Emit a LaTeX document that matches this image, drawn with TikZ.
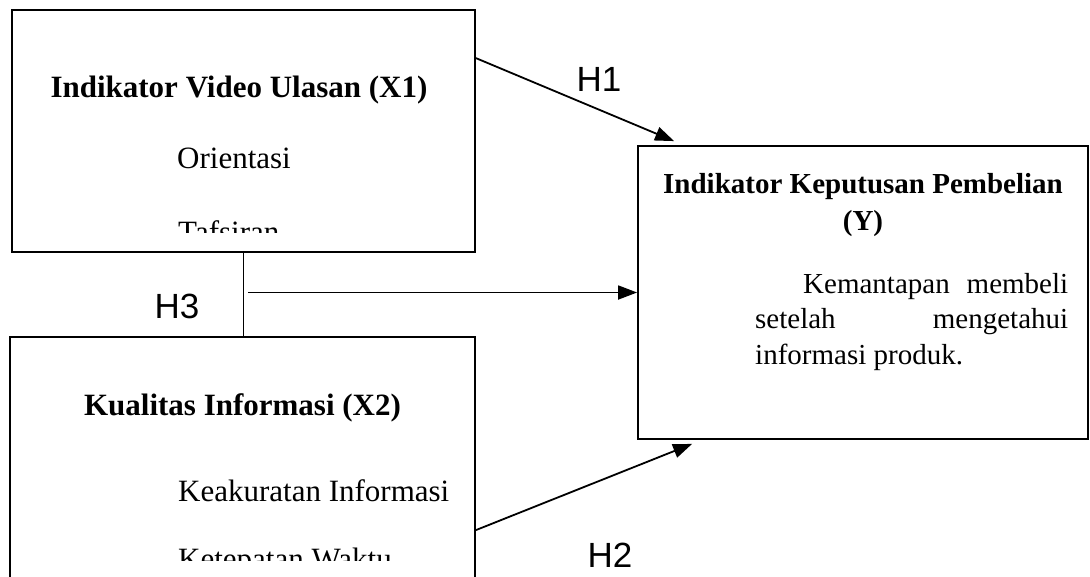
\documentclass[tikz,border=0pt]{standalone}
\usepackage{fontspec}
\setmainfont{Liberation Serif}
\newfontfamily\arialfont{Liberation Sans}
\usepackage{tikz}
\usetikzlibrary{positioning,calc,arrows.meta}
\hyphenpenalty=10000
\exhyphenpenalty=10000
\tolerance=9999
\tikzset{
    kotak/.style={rectangle, draw=black, line width=1.8pt, inner sep=0pt},
    panah/.style={draw=black, line width=1.8pt, -{Triangle[length=19pt,width=14pt]}}
}

\begin{document}
\begin{tikzpicture}[
        x=1pt, y=-1pt,
        % --- STYLE TEKS ---
        judul/.style={
            font=\fontsize{31}{36}\selectfont\bfseries,
            inner sep=0pt,
            anchor=base
        },
        isi/.style={
            font=\fontsize{31}{36}\selectfont,
            inner sep=0pt,
            anchor=base west
        },
        % Label hipotesis (Arial)
        label_h/.style={
            font=\arialfont\fontsize{35}{40}\selectfont,
            inner sep=0pt
        }
    ]
        \useasboundingbox (0,0) rectangle (1090,576);
        \clip (0,0) rectangle (1090,576);

        % --- KOTAK VARIABEL ---
        \node[kotak, minimum width=463pt, minimum height=242pt] (x1) at (243.5,131) {};
        \node[kotak, minimum width=465pt, minimum height=283pt] (x2) at (242.5,478.5) {};
        \node[kotak, minimum width=450pt, minimum height=293pt] (y) at (863,292.5) {};

        % --- ISI KOTAK X1 (terpotong di bawah) ---
        \begin{scope}
            \clip (x1.north west) rectangle (475,232);
            \node[judul] (x1judul) at (239,97) {Indikator Video Ulasan (X1)};
            \node[isi] (x1a) at (177,168) {Orientasi};
            \node[isi] (x1b) at (178,242) {Tafsiran};
        \end{scope}

        % --- ISI KOTAK X2 ---
        \begin{scope}
            \clip (x2.north west) rectangle (475,560);
            \node[judul] (x2judul) at (242.5,415) {Kualitas Informasi (X2)};
            \node[isi] (x2a) at (178,501) {Keakuratan Informasi};
            \node[isi] (x2b) at (178,569) {Ketepatan Waktu};
        \end{scope}

        % --- ISI KOTAK Y ---
        \node[font=\fontsize{29}{37}\selectfont\bfseries, align=center,
              inner sep=0pt, anchor=north] (yjudul) at (863,173)
              {Indikator Keputusan Pembelian\\(Y)};
        \node[font=\fontsize{29}{35.5}\selectfont, text width=313pt, align=justify,
              inner sep=0pt, anchor=north west] (yisi) at (755,273)
              {\hspace*{48pt}Kemantapan membeli setelah mengetahui informasi produk.};

        % --- PANAH HIPOTESIS ---
        \draw[panah] ([yshift=-49pt]x1.north east) -- ([xshift=37pt,yshift=4pt]y.north west);
        \draw[panah] ([yshift=-194pt]x2.north east) -- ([xshift=55pt,yshift=-4pt]y.south west);
        \draw[kotak] (x1.south) -- (x1.south |- x2.north);
        \draw[panah] ($(x1.south |- y.west)+(4.5,0)$) -- (y.west);

        % --- LABEL ---
        \node[label_h] (h1) at (599,79) {H1};
        \node[label_h] (h3) at (177,306) {H3};
        \node[label_h] (h2) at (610,555) {H2};

    \end{tikzpicture}
\end{document}
